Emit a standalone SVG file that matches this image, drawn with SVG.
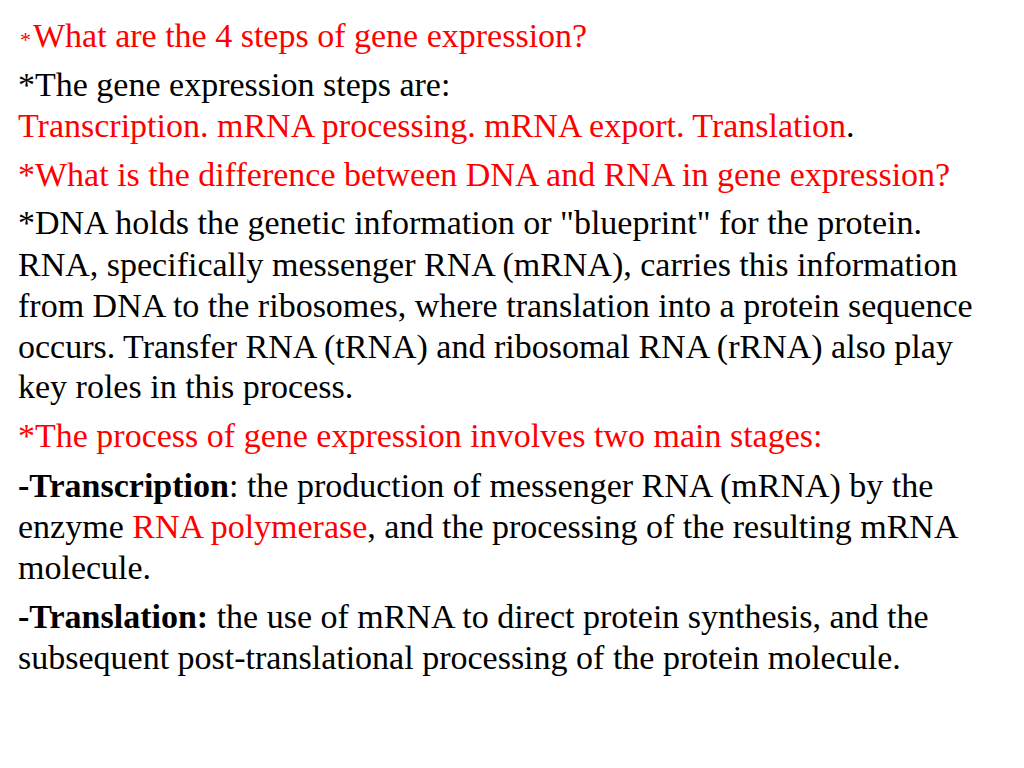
<svg xmlns="http://www.w3.org/2000/svg" width="1024" height="768" viewBox="0 0 1024 768">
<style>
text{font-family:"Liberation Serif","Times New Roman",serif;font-size:34px;fill:#000}
.r{fill:#ff0000}
.b{font-weight:bold}
</style>
<rect width="1024" height="768" fill="#fff"/>
<g id="text">
<text x="20" y="47"><tspan class="r" font-size="22">*</tspan><tspan class="r" dx="2">What are the 4 steps of gene expression?</tspan></text>
<text x="18" y="96">*The gene expression steps are:</text>
<text x="18" y="137"><tspan class="r">Transcription. mRNA processing. mRNA export. Translation</tspan>.</text>
<text x="18" y="186" class="r">*What is the difference between DNA and RNA in gene expression?</text>
<text x="18" y="234">*DNA holds the genetic information or "blueprint" for the protein.</text>
<text x="18" y="276">RNA, specifically messenger RNA (mRNA), carries this information</text>
<text x="18" y="317">from DNA to the ribosomes, where translation into a protein sequence</text>
<text x="18" y="358">occurs. Transfer RNA (tRNA) and ribosomal RNA (rRNA) also play</text>
<text x="18" y="398">key roles in this process.</text>
<text x="18" y="447" class="r">*The process of gene expression involves two main stages:</text>
<text x="18" y="497"><tspan class="b">-Transcription</tspan>: the production of messenger RNA (mRNA) by the</text>
<text x="18" y="538">enzyme <tspan class="r">RNA polymerase</tspan>, and the processing of the resulting mRNA</text>
<text x="18" y="579">molecule.</text>
<text x="18" y="628"><tspan class="b">-Translation:</tspan> the use of mRNA to direct protein synthesis, and the</text>
<text x="18" y="669">subsequent post-translational processing of the protein molecule.</text>
</g>
</svg>
